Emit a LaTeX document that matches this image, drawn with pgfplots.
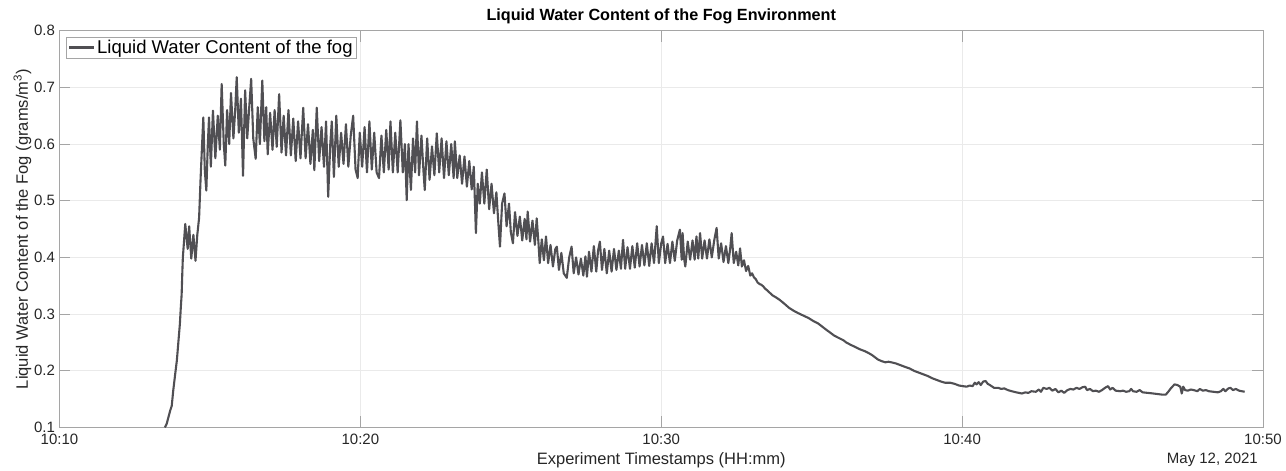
\documentclass[border=0pt]{standalone}
\usepackage{fontspec}
\setmainfont{Liberation Sans}
\usepackage{pgfplots}
\pgfplotsset{compat=1.18}
\definecolor{linec}{RGB}{80,79,83}
\definecolor{axc}{RGB}{165,165,165}
\definecolor{gridc}{RGB}{234,234,234}
\definecolor{txtc}{RGB}{38,38,38}
\begin{document}
\begin{tikzpicture}
\begin{axis}[
  at={(0pt,0pt)}, anchor=south west,
  scale only axis, width=1203.5pt, height=396.8pt,
  xmin=10, xmax=50, ymin=0.1, ymax=0.8,
  xtick={10,20,30,40,50},
  xticklabels={10:10,10:20,10:30,10:40,10:50},
  ytick={0.1,0.2,0.3,0.4,0.5,0.6,0.7,0.8},
  yticklabels={0.1,0.2,0.3,0.4,0.5,0.6,0.7,0.8},
  grid=major,
  major grid style={draw=gridc, line width=0.8pt},
  axis line style={draw=axc, line width=0.9pt},
  every tick/.style={draw=axc, line width=0.9pt},
  major tick length=11pt,
  tick align=inside,
  ticklabel style={font=\fontsize{15}{18}\selectfont, text=txtc},
  xticklabel style={yshift=-3pt},
  yticklabel style={xshift=-1pt},
  xlabel={Experiment Timestamps (HH:mm)},
  xlabel style={at={(axis description cs:0.5,0)}, anchor=base, yshift=-37.5pt, inner sep=0pt, font=\fontsize{16.5}{19}\selectfont, text=txtc},
  ylabel={Liquid Water Content of the Fog (grams/m\textsuperscript{3})},
  ylabel style={at={(axis description cs:0,0.5)}, anchor=south, yshift=28pt, inner sep=0pt, font=\fontsize{16.5}{19}\selectfont, text=txtc},
  title={Liquid Water Content of the Fog Environment},
  title style={at={(axis description cs:0.5,1)}, anchor=base, yshift=4.7pt, inner sep=0pt, font=\bfseries\fontsize{16.2}{19}\selectfont, text=black},
  legend style={at={(axis description cs:0.00515,0.985)}, anchor=north west, draw=axc, line width=0.8pt, fill=white, inner xsep=2pt, inner ysep=1.5pt, font=\fontsize{18.5}{21}\selectfont, text=black, nodes={inner sep=1.5pt}},
  legend image code/.code={\draw[#1, line width=2.6pt] (0pt,0pt) -- (25pt,0pt);},
  legend cell align=left,
]
\addplot[linec, line width=2.1pt, line join=round] coordinates {
(13.50,0.100)(13.56,0.106)(13.62,0.118)(13.68,0.130)(13.73,0.138)(13.78,0.165)(13.84,0.192)(13.90,0.218)(13.95,0.250)(14.00,0.282)(14.03,0.310)(14.06,0.335)(14.08,0.370)
(14.10,0.400)(14.18,0.459)(14.26,0.415)(14.31,0.455)(14.38,0.398)(14.45,0.440)(14.52,0.394)(14.58,0.440)(14.64,0.470)(14.69,0.540)(14.74,0.600)(14.78,0.647)(14.83,0.553)(14.88,0.518)(14.93,0.600)(14.97,0.647)(15.03,0.560)(15.10,0.659)(15.18,0.575)(15.26,0.650)(15.33,0.590)(15.39,0.706)(15.46,0.600)(15.51,0.562)(15.57,0.660)(15.64,0.600)(15.70,0.690)(15.78,0.610)(15.84,0.660)(15.89,0.718)(15.96,0.620)(16.03,0.680)(16.10,0.544)(16.17,0.695)(16.24,0.610)(16.30,0.660)(16.37,0.715)(16.44,0.610)(16.52,0.574)(16.59,0.665)(16.66,0.600)(16.74,0.712)(16.81,0.605)(16.87,0.665)(16.92,0.582)(17.00,0.655)(17.08,0.590)(17.15,0.660)(17.22,0.595)(17.30,0.688)(17.38,0.585)(17.45,0.650)(17.53,0.580)(17.61,0.660)(17.69,0.580)(17.77,0.645)(17.85,0.570)(17.93,0.640)(18.01,0.575)(18.10,0.664)(18.18,0.575)(18.26,0.635)(18.34,0.565)(18.42,0.625)(18.47,0.554)(18.55,0.664)(18.63,0.570)(18.71,0.630)(18.79,0.560)(18.86,0.640)(18.93,0.507)(19.00,0.600)(19.05,0.640)(19.12,0.542)(19.20,0.650)(19.28,0.560)(19.36,0.620)(19.44,0.565)(19.52,0.635)(19.60,0.560)(19.68,0.615)(19.76,0.650)(19.84,0.555)(19.91,0.540)(19.98,0.620)(20.06,0.560)(20.14,0.630)(20.22,0.550)(20.30,0.640)(20.38,0.555)(20.46,0.620)(20.54,0.550)(20.62,0.540)(20.70,0.615)(20.78,0.550)(20.86,0.625)(20.94,0.555)(21.00,0.640)(21.08,0.550)(21.16,0.620)(21.24,0.550)(21.33,0.642)(21.41,0.550)(21.48,0.600)(21.54,0.501)(21.60,0.600)(21.68,0.519)(21.75,0.610)(21.82,0.550)(21.88,0.640)(21.95,0.545)(22.03,0.615)(22.10,0.550)(22.14,0.519)(22.22,0.610)(22.30,0.537)(22.38,0.596)(22.46,0.545)(22.54,0.619)(22.62,0.550)(22.70,0.610)(22.78,0.540)(22.86,0.605)(22.94,0.545)(23.02,0.600)(23.10,0.540)(23.14,0.605)(23.22,0.540)(23.30,0.580)(23.38,0.530)(23.46,0.578)(23.54,0.525)(23.62,0.570)(23.70,0.520)(23.77,0.560)(23.84,0.443)(23.90,0.530)(23.97,0.495)(24.04,0.550)(24.12,0.495)(24.20,0.555)(24.28,0.485)(24.36,0.530)(24.44,0.478)(24.52,0.515)(24.58,0.465)(24.64,0.419)(24.71,0.495)(24.79,0.513)(24.86,0.455)(24.94,0.495)(25.00,0.445)(25.07,0.425)(25.14,0.480)(25.22,0.438)(25.30,0.472)(25.38,0.430)(25.46,0.468)(25.52,0.432)(25.56,0.481)(25.64,0.428)(25.72,0.465)(25.80,0.422)(25.86,0.469)(25.92,0.425)(25.96,0.390)(26.03,0.432)(26.10,0.395)(26.17,0.437)(26.24,0.390)(26.32,0.422)(26.40,0.384)(26.48,0.415)(26.53,0.419)(26.60,0.378)(26.68,0.408)(26.76,0.372)(26.86,0.364)(26.94,0.400)(27.02,0.419)(27.09,0.372)(27.17,0.400)(27.25,0.370)(27.33,0.398)(27.41,0.368)(27.48,0.402)(27.53,0.366)(27.60,0.410)(27.68,0.375)(27.76,0.420)(27.84,0.375)(27.90,0.412)(27.96,0.428)(28.03,0.378)(28.11,0.415)(28.19,0.372)(28.27,0.412)(28.35,0.375)(28.43,0.415)(28.51,0.378)(28.59,0.412)(28.66,0.380)(28.73,0.431)(28.80,0.380)(28.88,0.418)(28.96,0.380)(29.04,0.420)(29.12,0.382)(29.20,0.425)(29.28,0.384)(29.36,0.422)(29.44,0.386)(29.52,0.425)(29.60,0.385)(29.68,0.425)(29.76,0.390)(29.85,0.455)(29.92,0.390)(30.00,0.425)(30.06,0.437)(30.13,0.390)(30.21,0.424)(30.29,0.390)(30.37,0.428)(30.45,0.394)(30.53,0.430)(30.62,0.449)(30.68,0.396)(30.71,0.443)(30.76,0.398)(30.80,0.384)(30.88,0.428)(30.96,0.396)(31.04,0.430)(31.11,0.396)(31.17,0.437)(31.23,0.398)(31.29,0.443)(31.36,0.398)(31.44,0.430)(31.52,0.398)(31.60,0.432)(31.68,0.400)(31.76,0.430)(31.84,0.452)(31.91,0.398)(31.99,0.425)(32.07,0.392)(32.15,0.420)(32.23,0.390)(32.29,0.415)(32.34,0.443)(32.41,0.390)(32.49,0.410)(32.56,0.386)(32.62,0.416)(32.68,0.384)(32.75,0.395)(32.82,0.376)(32.89,0.385)(32.96,0.368)(33.02,0.372)(33.08,0.365)(33.14,0.362)(33.20,0.356)(33.27,0.353)(33.32,0.352)(33.39,0.349)(33.45,0.345)(33.52,0.342)(33.60,0.338)(33.70,0.333)(33.80,0.330)(33.94,0.325)
(34.10,0.318)(34.25,0.311)(34.40,0.306)(34.54,0.302)(34.70,0.298)(34.90,0.293)(35.05,0.288)(35.20,0.284)(35.35,0.278)(35.47,0.273)(35.60,0.268)(35.75,0.262)(35.90,0.258)(36.05,0.254)(36.15,0.250)(36.29,0.246)(36.45,0.242)(36.60,0.238)(36.75,0.235)(36.87,0.232)(37.00,0.228)(37.10,0.224)(37.20,0.220)(37.33,0.217)(37.45,0.215)(37.55,0.216)(37.65,0.215)(37.80,0.213)(37.95,0.210)(38.10,0.207)(38.26,0.204)(38.40,0.200)(38.55,0.197)(38.70,0.194)(38.85,0.191)(39.00,0.187)(39.15,0.184)(39.30,0.181)(39.43,0.179)(39.60,0.179)(39.75,0.177)(39.90,0.174)(40.02,0.173)(40.15,0.172)(40.25,0.174)(40.35,0.173)(40.42,0.179)(40.48,0.176)(40.55,0.180)(40.62,0.175)(40.70,0.181)(40.78,0.182)(40.85,0.177)(40.92,0.175)(41.06,0.170)(41.20,0.170)(41.30,0.168)(41.40,0.169)(41.52,0.166)(41.65,0.164)(41.80,0.162)(41.99,0.160)(42.10,0.162)(42.20,0.161)(42.30,0.164)(42.45,0.163)(42.55,0.167)(42.62,0.163)(42.70,0.170)(42.81,0.168)(42.90,0.170)(43.00,0.165)(43.10,0.168)(43.20,0.162)(43.30,0.165)(43.39,0.161)(43.50,0.166)(43.60,0.168)(43.70,0.167)(43.80,0.170)(43.90,0.168)(44.00,0.171)(44.09,0.172)(44.15,0.166)(44.25,0.168)(44.35,0.164)(44.44,0.165)(44.55,0.163)(44.65,0.166)(44.75,0.170)(44.85,0.173)(44.92,0.167)(45.00,0.170)(45.10,0.165)(45.25,0.164)(45.35,0.165)(45.45,0.163)(45.55,0.164)(45.62,0.168)(45.68,0.164)(45.80,0.163)(45.90,0.166)(46.00,0.162)(46.18,0.161)(46.35,0.160)(46.50,0.159)(46.65,0.158)(46.77,0.158)(46.85,0.163)(46.95,0.170)(47.06,0.176)(47.15,0.175)(47.25,0.172)(47.30,0.160)(47.35,0.172)(47.41,0.166)(47.50,0.165)(47.60,0.167)(47.70,0.166)(47.82,0.164)(47.90,0.168)(48.00,0.165)(48.10,0.166)(48.20,0.164)(48.35,0.163)(48.50,0.162)(48.60,0.164)(48.68,0.168)(48.75,0.164)(48.85,0.169)(48.92,0.170)(49.00,0.166)(49.10,0.168)(49.20,0.165)(49.30,0.164)(49.39,0.163)
};
\addlegendentry{Liquid Water Content of the fog}
\end{axis}
\node[anchor=base east, inner sep=0pt, font=\fontsize{15}{18}\selectfont, text=txtc] at (1198.5pt,-36pt) {May 12, 2021};
\pgfresetboundingbox
\path[use as bounding box] (-59.5pt,-43.5pt) rectangle (1226.5pt,427.5pt);
\end{tikzpicture}
\end{document}
